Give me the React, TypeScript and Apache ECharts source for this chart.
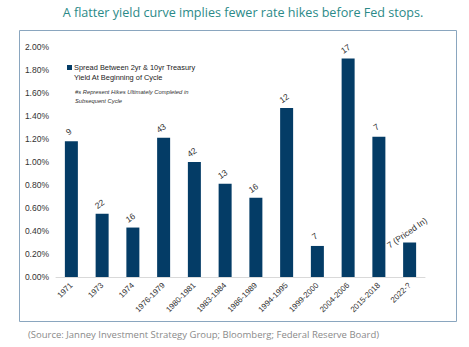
import React, { useEffect, useRef } from "react";
import * as echarts from "echarts";

const categories = ["1971", "1973", "1974", "1976-1979", "1980-1981", "1983-1984", "1986-1989", "1994-1995", "1999-2000", "2004-2006", "2015-2018", "2022-?"];
const spreadValues = [1.18, 0.55, 0.43, 1.21, 1.0, 0.81, 0.69, 1.47, 0.27, 1.9, 1.22, 0.3];
const hikeLabels = ["9", "22", "16", "43", "42", "13", "16", "12", "7", "17", "7", "7 (Priced In)"];
const yTicks = { min: 0, max: 2.0, interval: 0.2 };

const NAVY = "#043C66";
const FONT = "'Liberation Sans', Arial, sans-serif";

export default function App() {
  const ref = useRef<HTMLDivElement>(null);
  useEffect(() => {
    const chart = echarts.init(ref.current!, null, { renderer: "svg" });
    chart.setOption({
      animation: false,
      backgroundColor: "#ffffff",
      grid: { left: 56, right: 44, top: 47, bottom: 70 },
      xAxis: {
        type: "category",
        data: categories,
        axisLine: { show: true, lineStyle: { color: "#d9d9d9", width: 1 } },
        axisTick: { show: false },
        axisLabel: {
          rotate: 45,
          interval: 0,
          fontSize: 8,
          color: "#333",
          fontFamily: FONT,
          margin: 7,
        },
      },
      yAxis: {
        type: "value",
        min: yTicks.min,
        max: yTicks.max,
        interval: yTicks.interval,
        splitLine: { show: false },
        axisLine: { show: false },
        axisTick: { show: false },
        axisLabel: {
          fontSize: 8.5,
          color: "#333",
          fontFamily: FONT,
          margin: 7,
          formatter: (v: number) => v.toFixed(2) + "%",
        },
      },
      series: [
        {
          type: "bar",
          data: spreadValues,
          barWidth: 13,
          itemStyle: { color: NAVY },
          label: {
            show: true,
            position: "top",
            distance: 6,
            rotate: 35,
            fontSize: 8.5,
            color: "#333",
            fontFamily: FONT,
            formatter: (p: any) => hikeLabels[p.dataIndex],
          },
        },
      ],
      graphic: [
        {
          type: "rect",
          shape: { x: 19.5, y: 30.5, width: 437, height: 291 },
          style: { fill: "none", stroke: "#8aa6bf", lineWidth: 1 },
          silent: true,
        },
        {
          type: "text",
          x: 243,
          y: 12,
          style: {
            text: "A flatter yield curve implies fewer rate hikes before Fed stops.",
            fill: "#2b8a88",
            font: "12.6px 'Open Sans', sans-serif",
            align: "center",
            verticalAlign: "middle",
          },
        },
        {
          type: "text",
          x: 28,
          y: 334,
          style: {
            text: "(Source: Janney Investment Strategy Group; Bloomberg; Federal Reserve Board)",
            fill: "#8a8a8a",
            font: "9.5px 'Open Sans', sans-serif",
            align: "left",
            verticalAlign: "middle",
          },
        },
        {
          type: "rect",
          shape: { x: 67, y: 65, width: 5, height: 5 },
          style: { fill: NAVY },
        },
        {
          type: "text",
          x: 74,
          y: 62,
          style: {
            text: "Spread Between 2yr & 10yr Treasury\nYield At Beginning of Cycle",
            fill: "#222",
            font: "7.4px " + FONT,
            lineHeight: 10,
            align: "left",
            verticalAlign: "top",
          },
        },
        {
          type: "text",
          x: 75,
          y: 88,
          style: {
            text: "#s Represent Hikes Ultimately Completed in\nSubsequent Cycle",
            fill: "#333",
            font: "italic 5.8px " + FONT,
            lineHeight: 8.5,
            align: "left",
            verticalAlign: "top",
          },
        },
      ],
    });
    return () => chart.dispose();
  }, []);
  return (
    <div
      ref={ref}
      style={{ position: "absolute", left: 0, top: 0, width: 469, height: 347, background: "#fff" }}
    />
  );
}
